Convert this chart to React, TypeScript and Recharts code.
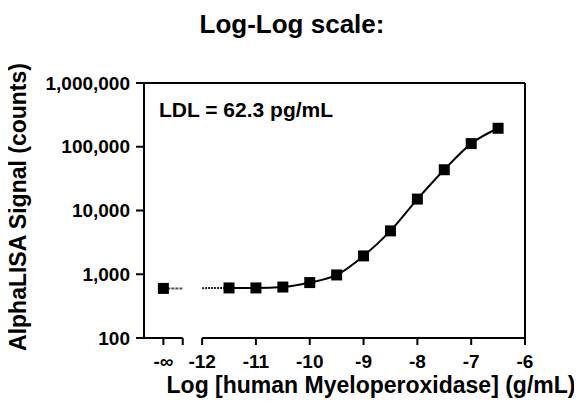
import React from 'react';
import { ComposedChart, Line, Scatter, XAxis, YAxis, ReferenceLine } from 'recharts';

// log10 of concentration (g/mL) and AlphaLISA counts
const logConc = [-11.5, -11, -10.5, -10, -9.5, -9, -8.5, -8, -7.5, -7, -6.5];
const counts = [610, 610, 630, 740, 975, 1940, 4790, 15100, 43600, 112000, 195000];

// blank (zero concentration) plotted at -infinity
const blankPos = -12.72;
const blankCounts = 600;
const breakEnd = -12.36;

// dotted start of the fit line
const fitStartX = [-12, -11.5];
const fitStartY = [605, 610];

const xTicks = [blankPos, breakEnd, -12, -11, -10, -9, -8, -7, -6];
const yTicks = [100, 1000, 10000, 100000, 1000000];

const points = logConc.map((x, i) => ({ x, y: counts[i] }));
const blankPts = [{ x: blankPos, y: blankCounts }];
const blankLine = [{ x: blankPos, y: blankCounts }, { x: breakEnd, y: blankCounts }];
const fitStart = fitStartX.map((x, i) => ({ x, y: fitStartY[i] }));

const font = '"Liberation Sans", Arial, sans-serif';

const Square = (props: any) => (
    <rect x={props.cx - 5.5} y={props.cy - 5.5} width={11} height={11} fill="#000" />
);

const fmtX = (v: number) => (v === breakEnd ? '' : v === blankPos ? '-∞' : String(v));
const fmtY = (v: number) => v.toLocaleString('en-US');

const App: React.FC = () =>
    <div style={{ position: 'relative', width: 574, height: 399, fontFamily: font }}>
        <ComposedChart width={574} height={399} data={points}
            margin={{ top: 75, right: 57, bottom: 29, left: 66 }}
            style={{ fontFamily: font }}>
            <XAxis type="number" dataKey="x" domain={[-13.08, -6]} allowDataOverflow ticks={xTicks}
                tickFormatter={fmtX} axisLine={false} tickLine={{ stroke: '#000', strokeWidth: 2 }} tickSize={7} tickMargin={10}
                tick={{ fill: '#000', fontSize: 19, fontWeight: 'bold' }} height={40} />
            <YAxis type="number" scale="log" domain={[100, 1000000]} allowDataOverflow ticks={yTicks}
                tickFormatter={fmtY} axisLine={{ stroke: '#000', strokeWidth: 2 }} tickLine={{ stroke: '#000', strokeWidth: 2 }}
                tickSize={8} tickMargin={6} width={70} tick={{ fill: '#000', fontSize: 19, fontWeight: 'bold' }} />
            <ReferenceLine segment={[{ x: -13.08, y: 100 }, { x: breakEnd, y: 100 }]} stroke="#000" strokeWidth={2} ifOverflow="visible" />
            <ReferenceLine segment={[{ x: -12, y: 100 }, { x: -6, y: 100 }]} stroke="#000" strokeWidth={2} ifOverflow="visible" />
            <ReferenceLine y={1000000} stroke="#000" strokeWidth={2} ifOverflow="visible" />
            <ReferenceLine x={-6} stroke="#000" strokeWidth={2} ifOverflow="visible" />
            <Line data={blankLine} dataKey="y" type="linear" stroke="#555" strokeWidth={2} strokeDasharray="3 1" dot={false} isAnimationActive={false} />
            <Line data={fitStart} dataKey="y" type="linear" stroke="#222" strokeWidth={2} strokeDasharray="2 1" dot={false} isAnimationActive={false} />
            <Line data={points} dataKey="y" type="monotone" stroke="#000" strokeWidth={2} dot={false} isAnimationActive={false} />
            <Scatter data={points} dataKey="y" shape={Square} isAnimationActive={false} />
            <Scatter data={blankPts} dataKey="y" shape={Square} isAnimationActive={false} />
        </ComposedChart>
        {/* titles, in page coordinates */}
        <svg width={582} height={407} style={{ position: 'absolute', left: -8, top: -8, pointerEvents: 'none' }}
            fontFamily={font} fontWeight="bold" fill="#000">
            <text x={292} y={33.3} textAnchor="middle" fontSize={26}>Log-Log scale:</text>
            <text x={159} y={117.3} fontSize={21}>LDL = 62.3 pg/mL</text>
            <text x={371} y={392.5} textAnchor="middle" fontSize={23}>Log [human Myeloperoxidase] (g/mL)</text>
            <text x={25.5} y={207} textAnchor="middle" fontSize={23} transform="rotate(-90 25.5 207)">AlphaLISA Signal (counts)</text>
        </svg>
    </div>

export default App
